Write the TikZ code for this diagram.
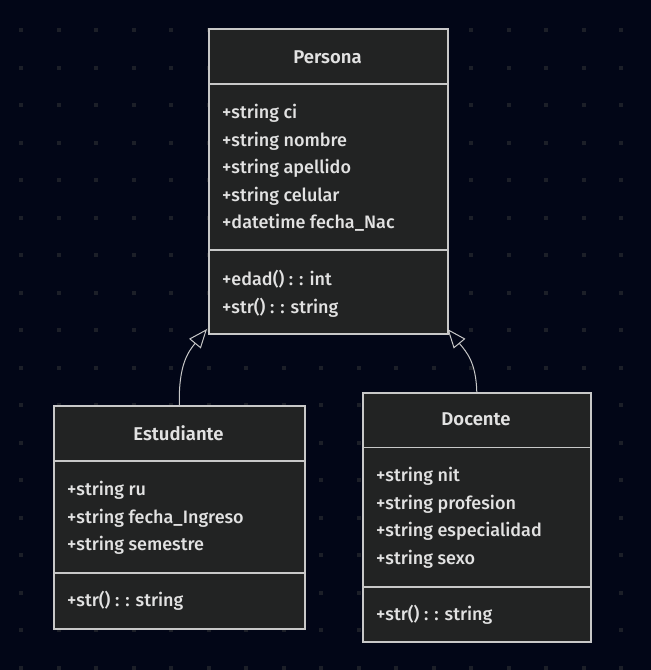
\documentclass[tikz,border=0pt]{standalone}
\usepackage{fontspec}
\setmainfont{Fira Sans}[UprightFont={* Medium}, BoldFont={* SemiBold}]
\usetikzlibrary{arrows.meta}
\definecolor{bgc}{HTML}{020617}
\definecolor{dotc}{HTML}{1C1F28}
\definecolor{boxfill}{HTML}{222323}
\definecolor{boxline}{HTML}{C8C8C8}
\definecolor{txt}{HTML}{E2E2E2}
\tikzset{
  classbox/.style={draw=boxline, fill=boxfill, line width=1.6pt, inner sep=0pt, anchor=north west},
  divider/.style={draw=boxline, line width=1.2pt},
  member/.style={text=txt, inner sep=0pt, anchor=base west, font=\fontsize{18}{20}\selectfont},
  classtitle/.style={text=txt, inner sep=0pt, anchor=base, font=\fontsize{18.5}{20}\selectfont\bfseries},
  inherit/.style={draw=boxline, line width=1pt, -{Triangle[open, length=19pt, width=15pt]}}
}
\begin{document}
\begin{tikzpicture}[x=1pt, y=-1pt]
\useasboundingbox (0,0) rectangle (651,670);
\fill[bgc] (0,0) rectangle (651,670);
\foreach \i in {0,...,16}{
  \foreach \j in {0,...,17}{
    \fill[dotc] ({21+37.5*\i-2},{30+37.5*\j-2}) rectangle ++(4,4);
  }
}
% Persona
\node[classbox, minimum width=239pt, minimum height=305pt] (persona) at (208,28) {};
\draw[divider] (persona.west |- 0,84) -- (persona.east |- 0,84);
\draw[divider] (persona.west |- 0,250) -- (persona.east |- 0,250);
\node[classtitle] (ptitle) at (327.5,63) {Persona};
\node[member] (p1) at (222,118.7) {+string ci};
\node[member] (p2) at (222,146.2) {+string nombre};
\node[member] (p3) at (222,173.7) {+string apellido};
\node[member] (p4) at (222,201.2) {+string celular};
\node[member] (p5) at (222,228.5) {+datetime fecha\_Nac};
\node[member] (p6) at (222,285) {+edad() : : int};
\node[member] (p7) at (222,313) {+str() : : string};
% Estudiante
\node[classbox, minimum width=251pt, minimum height=223pt] (est) at (53,405) {};
\draw[divider] (est.west |- 0,461) -- (est.east |- 0,461);
\draw[divider] (est.west |- 0,573) -- (est.east |- 0,573);
\node[classtitle] (etitle) at (178.5,440) {Estudiante};
\node[member] (e1) at (67,495.7) {+string ru};
\node[member] (e2) at (67,523.2) {+string fecha\_Ingreso};
\node[member] (e3) at (67,550.7) {+string semestre};
\node[member] (e4) at (67,606.7) {+str() : : string};
% Docente
\node[classbox, minimum width=228pt, minimum height=249pt] (doc) at (362,392) {};
\draw[divider] (doc.west |- 0,447.5) -- (doc.east |- 0,447.5);
\draw[divider] (doc.west |- 0,587) -- (doc.east |- 0,587);
\node[classtitle] (dtitle) at (476,425.3) {Docente};
\node[member] (d1) at (376,481.7) {+string nit};
\node[member] (d2) at (376,509.2) {+string profesion};
\node[member] (d3) at (376,536.7) {+string especialidad};
\node[member] (d4) at (376,564.2) {+string sexo};
\node[member] (d5) at (376,620) {+str() : : string};
% connectors
\coordinate (ptipL) at (207,329);
\coordinate (ptipR) at (447.5,329);
\draw[inherit] (est.north) .. controls (178.5,365) and (188,352) .. (ptipL);
\draw[inherit] (doc.north) .. controls (476,362) and (466.5,352) .. (ptipR);
\end{tikzpicture}
\end{document}
